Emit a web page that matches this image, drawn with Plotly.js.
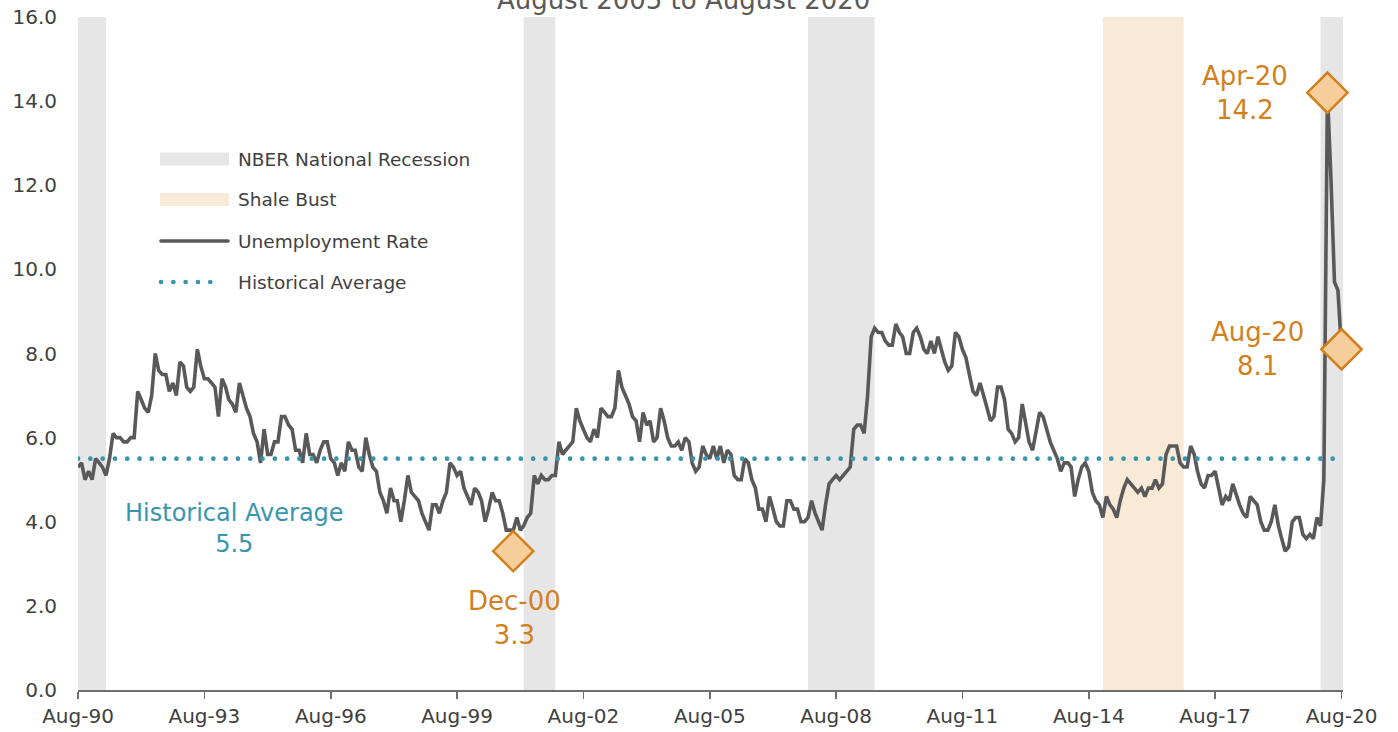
<!DOCTYPE html>
<html>
<head>
<meta charset="utf-8">
<script src="https://cdn.plot.ly/plotly-3.0.1.min.js"></script>
<style>
html,body{margin:0;padding:0;background:#ffffff;}
#chart{width:1398px;height:732px;}
.scatterlayer .trace:nth-of-type(2) .js-line{stroke-linecap:round;}
.shapelayer path{stroke-linecap:round;}
</style>
</head>
<body>
<div id="chart"></div>
<script>
// ---------------- DATA ----------------
const titleText = 'August 2005 to August 2020';
const firstYear = 1990;
const firstMonthIndex = 7; // August (0-based)

// Monthly unemployment rate, Aug-90 .. Aug-20
const unemploymentRate = [
  5.3, 5.4, 5.0, 5.2, 5.0, 5.5, 5.4, 5.3, 5.1, 5.5,
  6.1, 6.0, 6.0, 5.9, 5.9, 6.0, 6.0, 7.1, 6.9, 6.7,
  6.6, 7.0, 8.0, 7.6, 7.5, 7.5, 7.1, 7.3, 7.0, 7.8,
  7.7, 7.2, 7.1, 7.2, 8.1, 7.7, 7.4, 7.4, 7.3, 7.2,
  6.5, 7.4, 7.2, 6.9, 6.8, 6.6, 7.3, 7.0, 6.7, 6.5,
  6.1, 5.9, 5.4, 6.2, 5.6, 5.6, 5.9, 5.9, 6.5, 6.5,
  6.3, 6.2, 5.7, 5.7, 5.4, 6.1, 5.6, 5.6, 5.4, 5.7,
  5.9, 5.9, 5.5, 5.4, 5.1, 5.4, 5.2, 5.9, 5.7, 5.7,
  5.3, 5.2, 6.0, 5.6, 5.3, 5.2, 4.7, 4.5, 4.2, 4.8,
  4.5, 4.5, 4.0, 4.5, 5.1, 4.7, 4.6, 4.5, 4.2, 4.0,
  3.8, 4.4, 4.4, 4.2, 4.5, 4.7, 5.4, 5.3, 5.1, 5.2,
  4.8, 4.6, 4.4, 4.8, 4.7, 4.5, 4.0, 4.3, 4.7, 4.5,
  4.5, 4.2, 3.8, 3.8, 3.8, 4.1, 3.8, 3.9, 4.1, 4.2,
  5.1, 4.9, 5.1, 5.0, 5.0, 5.1, 5.1, 5.9, 5.6, 5.7,
  5.8, 5.9, 6.7, 6.4, 6.2, 6.0, 5.9, 6.2, 6.0, 6.7,
  6.6, 6.5, 6.5, 6.7, 7.6, 7.2, 7.0, 6.8, 6.5, 6.4,
  5.9, 6.6, 6.3, 6.4, 5.9, 6.0, 6.7, 6.4, 6.0, 5.8,
  5.8, 5.9, 5.7, 6.0, 5.9, 5.4, 5.2, 5.3, 5.8, 5.6,
  5.5, 5.8, 5.5, 5.8, 5.4, 5.7, 5.6, 5.1, 5.0, 5.0,
  5.5, 5.4, 5.0, 4.8, 4.3, 4.3, 4.0, 4.6, 4.3, 4.0,
  3.9, 3.9, 4.5, 4.5, 4.3, 4.3, 4.0, 4.0, 4.1, 4.5,
  4.2, 4.0, 3.8, 4.4, 4.9, 5.0, 5.1, 5.0, 5.1, 5.2,
  5.3, 6.2, 6.3, 6.3, 6.1, 7.0, 8.4, 8.6, 8.5, 8.5,
  8.3, 8.2, 8.2, 8.7, 8.5, 8.4, 8.0, 8.0, 8.5, 8.6,
  8.4, 8.1, 8.0, 8.3, 8.0, 8.4, 8.1, 7.8, 7.6, 7.7,
  8.5, 8.4, 8.1, 7.9, 7.5, 7.1, 7.0, 7.3, 7.0, 6.7,
  6.4, 6.5, 7.2, 7.2, 6.9, 6.2, 6.1, 5.9, 6.0, 6.8,
  6.3, 5.9, 5.7, 6.2, 6.6, 6.5, 6.2, 5.9, 5.7, 5.5,
  5.2, 5.4, 5.4, 5.3, 4.6, 5.0, 5.3, 5.4, 5.2, 4.7,
  4.5, 4.4, 4.1, 4.6, 4.4, 4.3, 4.1, 4.5, 4.8, 5.0,
  4.9, 4.8, 4.7, 4.8, 4.6, 4.8, 4.8, 5.0, 4.8, 4.9,
  5.6, 5.8, 5.8, 5.8, 5.4, 5.3, 5.3, 5.8, 5.6, 5.2,
  4.9, 4.8, 5.1, 5.1, 5.2, 4.8, 4.4, 4.6, 4.5, 4.9,
  4.6, 4.4, 4.2, 4.1, 4.6, 4.5, 4.4, 4.0, 3.8, 3.8,
  4.0, 4.4, 3.9, 3.6, 3.3, 3.4, 4.0, 4.1, 4.1, 3.7,
  3.6, 3.7, 3.6, 4.1, 3.9, 5.0, 14.2, 12.2, 9.7, 9.5, 8.1
];

const historicalAverage = 5.5;

const recessionStarts = ['1990-08-01', '2001-03-01', '2007-12-01', '2020-02-01'];
const recessionEnds   = ['1991-04-01', '2001-12-01', '2009-07-01', '2020-08-31'];
const shaleBustStart = '2014-12-01';
const shaleBustEnd   = '2016-11-01';

const highlightDates  = ['2000-12-01', '2020-04-01', '2020-08-01'];
const highlightValues = [3.3, 14.2, 8.1];
const highlightLabels = ['Dec-00', 'Apr-20', 'Aug-20'];

const seriesNames = ['NBER National Recession', 'Shale Bust', 'Unemployment Rate', 'Historical Average'];
const averageLabel = 'Historical Average';

const yTickValues = [0, 2, 4, 6, 8, 10, 12, 14, 16];
const xAxisStart = '1990-08-01';
const xAxisEnd = '2020-08-14';

// ---------------- STYLE ----------------
const FONT = 'DejaVu Sans';
const C_LINE = '#595959';
const C_TEXT = '#404040';
const C_REC = '#e6e6e6';
const C_SHALE = '#f9ead7';
const C_TEAL = '#3795ae';
const C_ORANGE = '#d2801c';
const C_DIAMOND = '#f6cd9b';
const AVG_DASH = '0.1px,12.2px';

const W = 1398, H = 732;
const M = {l: 78, r: 55, t: 17, b: 42};
const PW = W - M.l - M.r, PH = H - M.t - M.b;
const px2x = p => (p - M.l) / PW;
const py2y = p => (H - M.b - p) / PH;

// monthly dates
const dates = unemploymentRate.map((_, i) => {
  const d = new Date(Date.UTC(firstYear, firstMonthIndex + i, 1));
  return d.toISOString().slice(0, 10);
});

// ---------------- TRACES ----------------
const lineTrace = {
  type: 'scatter', mode: 'lines', name: seriesNames[2],
  x: dates, y: unemploymentRate,
  line: {color: C_LINE, width: 3.6},
  showlegend: false, hoverinfo: 'x+y'
};
const avgTrace = {
  type: 'scatter', mode: 'lines', name: seriesNames[3],
  x: [dates[0], dates[dates.length - 1]],
  y: [historicalAverage, historicalAverage],
  line: {color: C_TEAL, width: 4.6, dash: AVG_DASH},
  showlegend: false
};
const highlightTrace = {
  type: 'scatter', mode: 'markers',
  x: highlightDates, y: highlightValues,
  marker: {symbol: 'diamond', size: 31, color: C_DIAMOND, line: {color: C_ORANGE, width: 2.5}},
  cliponaxis: false, showlegend: false
};

// ---------------- SHAPES ----------------
const shapes = [];
recessionStarts.forEach((s, i) => {
  shapes.push({type: 'rect', layer: 'below', xref: 'x', yref: 'paper',
    x0: s, x1: recessionEnds[i], y0: 0, y1: 1,
    fillcolor: C_REC, line: {width: 0}});
});
shapes.push({type: 'rect', layer: 'below', xref: 'x', yref: 'paper',
  x0: shaleBustStart, x1: shaleBustEnd, y0: 0, y1: 1,
  fillcolor: C_SHALE, line: {width: 0}});

// manual legend
const LG = {x0: 160, x1: 229, textX: 236, rows: [159, 199.5, 241, 282]};
shapes.push({type: 'rect', xref: 'paper', yref: 'paper', layer: 'above',
  x0: px2x(LG.x0), x1: px2x(LG.x1), y0: py2y(LG.rows[0] + 6.5), y1: py2y(LG.rows[0] - 6.5),
  fillcolor: C_REC, line: {width: 0}});
shapes.push({type: 'rect', xref: 'paper', yref: 'paper', layer: 'above',
  x0: px2x(LG.x0), x1: px2x(LG.x1), y0: py2y(LG.rows[1] + 6.5), y1: py2y(LG.rows[1] - 6.5),
  fillcolor: C_SHALE, line: {width: 0}});
shapes.push({type: 'line', xref: 'paper', yref: 'paper', layer: 'above',
  x0: px2x(LG.x0 + 1), x1: px2x(LG.x1 - 1), y0: py2y(LG.rows[2]), y1: py2y(LG.rows[2]),
  line: {color: C_LINE, width: 3.6}});
shapes.push({type: 'line', xref: 'paper', yref: 'paper', layer: 'above',
  x0: px2x(LG.x0 + 1), x1: px2x(LG.x0 + 62), y0: py2y(LG.rows[3]), y1: py2y(LG.rows[3]),
  line: {color: C_TEAL, width: 4.6, dash: AVG_DASH}});

// ---------------- ANNOTATIONS ----------------
const annotations = [];
seriesNames.forEach((n, i) => {
  annotations.push({text: n, xref: 'paper', yref: 'paper', x: px2x(LG.textX), y: py2y(LG.rows[i]),
    xanchor: 'left', yanchor: 'middle', showarrow: false,
    font: {family: FONT, size: 18.5, color: C_TEXT}});
});
annotations.push({text: averageLabel + '<br>' + historicalAverage.toFixed(1),
  xref: 'paper', yref: 'y', x: px2x(234), y: historicalAverage, yshift: -70,
  xanchor: 'center', yanchor: 'middle', showarrow: false, align: 'center',
  font: {family: FONT, size: 24, color: C_TEAL}});
const labelShifts = [[1.5, -67], [-82, 0], [-84, 0]];
highlightDates.forEach((d, i) => {
  annotations.push({text: highlightLabels[i] + '<br>' + highlightValues[i].toFixed(1),
    xref: 'x', yref: 'y', x: d, y: highlightValues[i],
    xshift: labelShifts[i][0], yshift: labelShifts[i][1],
    xanchor: 'center', yanchor: 'middle', showarrow: false, align: 'center',
    font: {family: FONT, size: 26, color: C_ORANGE}});
});

// ---------------- LAYOUT ----------------
const layout = {
  width: W, height: H,
  margin: M,
  paper_bgcolor: '#ffffff', plot_bgcolor: '#ffffff',
  font: {family: FONT, color: C_TEXT},
  title: {text: titleText, font: {family: FONT, size: 26, color: C_LINE},
    x: 0.489, xref: 'container', xanchor: 'center',
    y: 1, yref: 'container', yanchor: 'middle'},
  showlegend: false,
  xaxis: {
    type: 'date', range: [xAxisStart, xAxisEnd],
    tick0: xAxisStart, dtick: 'M36', tickformat: '%b-%y',
    showgrid: false, zeroline: false,
    showline: true, linecolor: '#6e6e6e', linewidth: 1.5,
    ticks: 'outside', ticklen: 7, tickwidth: 1.5, tickcolor: '#6e6e6e',
    tickfont: {family: FONT, size: 20, color: C_TEXT}
  },
  yaxis: {
    range: [0, 16], tickvals: yTickValues, tickformat: '.1f',
    showgrid: false, zeroline: false, showline: false, ticks: '',
    ticklabelstandoff: 20,
    tickfont: {family: FONT, size: 20, color: C_TEXT}
  },
  shapes: shapes,
  annotations: annotations
};

Plotly.newPlot('chart', [lineTrace, avgTrace, highlightTrace], layout, {displayModeBar: false, staticPlot: true});
</script>
</body>
</html>
